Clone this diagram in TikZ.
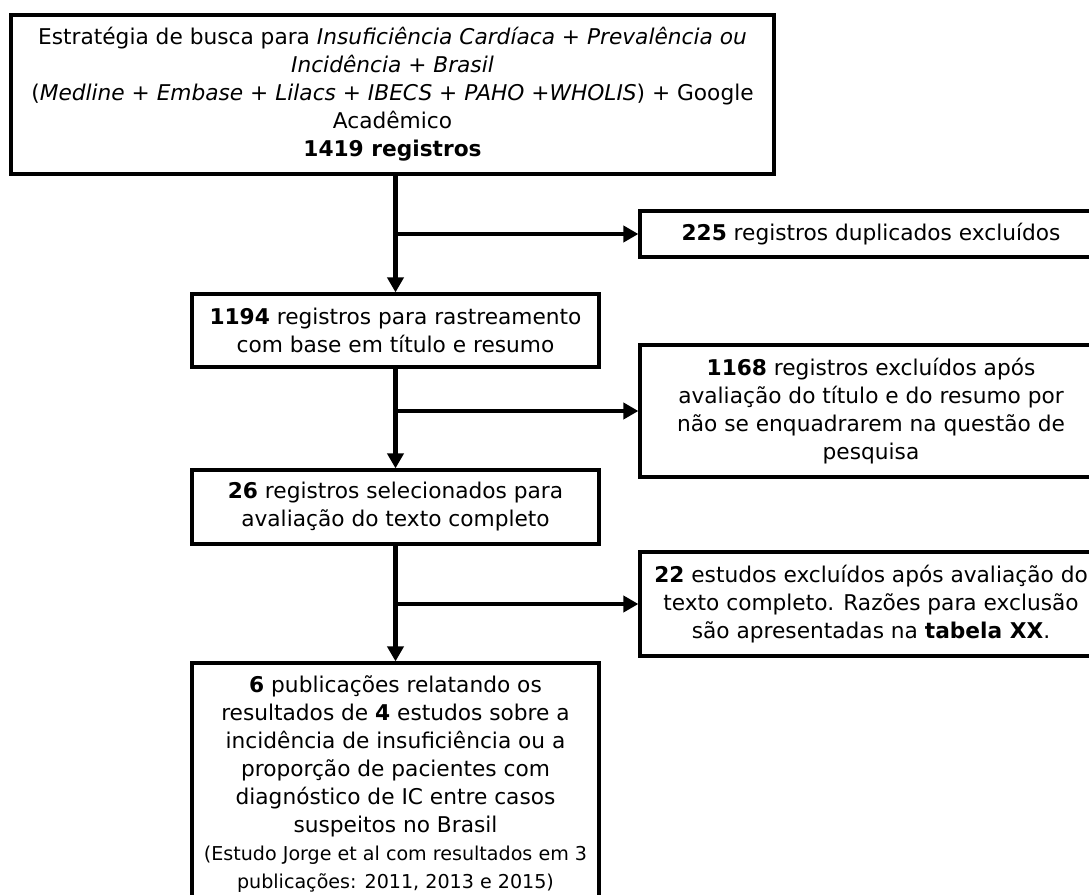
\documentclass[tikz,border=0pt]{standalone}
\usepackage{fontspec}
\setmainfont{DejaVu Sans}
\usetikzlibrary{arrows.meta}
\newcommand{\notefont}{\fontsize{9.55}{12.5}\selectfont}

\begin{document}
\begin{tikzpicture}[x=0.5pt,y=-0.5pt,
    box/.style={draw,line width=1.6pt,align=center,inner sep=0pt,
      font=\fontsize{10.85}{14}\selectfont},
    flow/.style={line width=2.2pt,-{Triangle[length=7.5pt,width=8pt]}}]
        \useasboundingbox (0,0) rectangle (1089,895);
        \clip (0,0) rectangle (1089,895);
        \node[box,minimum width=381.5pt,minimum height=79.5pt] (busca) at (392.5,94.5)
          {Estratégia de busca para \textit{Insuficiência Cardíaca} + \textit{Prevalência ou}\\
           \textit{Incidência} + \textit{Brasil}\\
           (\textit{Medline} + \textit{Embase} + \textit{Lilacs} + \textit{IBECS} + \textit{PAHO} +\textit{WHOLIS}) + Google\\
           Acadêmico\\
           \textbf{1419 registros}};
        \node[box,minimum width=203.5pt,minimum height=36.5pt] (rastreio) at (395.5,330.5)
          {\textbf{1194} registros para rastreamento\\ com base em título e resumo};
        \node[box,minimum width=203.5pt,minimum height=37pt] (selecao) at (395.5,507)
          {\textbf{26} registros selecionados para\\ avaliação do texto completo};
        \node[box,minimum width=203.5pt,minimum height=121pt] (incluidos) at (395.5,784)
          {\textbf{6} publicações relatando os\\ resultados de \textbf{4} estudos sobre a\\
           incidência de insuficiência ou a\\ proporção de pacientes com\\
           diagnóstico de IC entre casos\\ suspeitos no Brasil\\
           \notefont (Estudo Jorge et al com resultados em 3\\
           \notefont publicações: 2011, 2013 e 2015)};
        \node[box,minimum width=231pt,minimum height=23pt] (duplic) at (871,234)
          {\textbf{225} registros duplicados excluídos};
        \node[box,minimum width=231pt,minimum height=66pt] (excl) at (871,411)
          {\textbf{1168} registros excluídos após\\ avaliação do título e do resumo por\\
           não se enquadrarem na questão de\\ pesquisa};
        \node[box,minimum width=231pt,minimum height=52pt] (exclTexto) at (871,604)
          {\textbf{22} estudos excluídos após avaliação do\\ texto completo. Razões para exclusão\\
           são apresentadas na \textbf{tabela XX}.};
        \draw[flow] (busca.south -| rastreio.north) -- (rastreio.north);
        \draw[flow] (rastreio.south) -- (selecao.north);
        \draw[flow] (selecao.south) -- (incluidos.north);
        \draw[flow] (rastreio.north |- duplic.west) -- (duplic.west);
        \draw[flow] (rastreio.south |- excl.west) -- (excl.west);
        \draw[flow] (selecao.south |- exclTexto.west) -- (exclTexto.west);
      \end{tikzpicture}
\end{document}
